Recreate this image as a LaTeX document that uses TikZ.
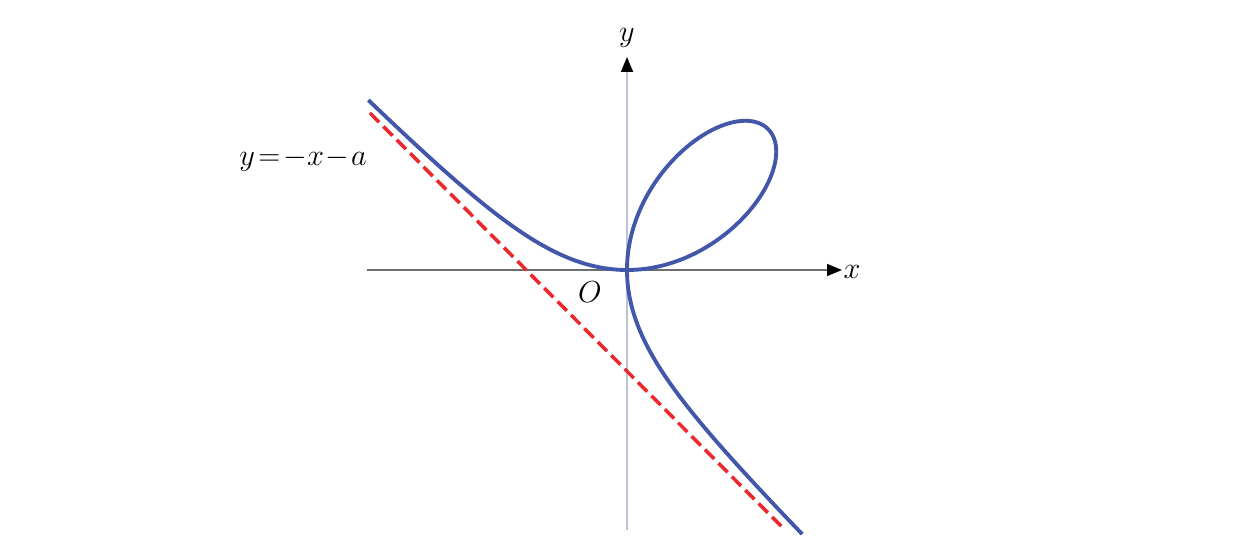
\documentclass[tikz,border=0pt]{standalone}
\usepackage{tikz}
\usetikzlibrary{arrows.meta}
\definecolor{curveblue}{RGB}{66,86,170}
\definecolor{asymred}{RGB}{236,40,44}
\definecolor{yaxisgray}{RGB}{190,192,212}
\definecolor{xaxisgray}{RGB}{110,110,110}
\begin{document}
\begin{tikzpicture}

\useasboundingbox (-12.54,-5.6) rectangle (12.44,5.4);
\def\fa{1.88}

\tikzstyle{xaxis} = [xaxisgray, line width=0.9pt, -{Triangle[length=0.3cm, width=0.24cm, color=black]}]
\tikzstyle{yaxis} = [yaxisgray, line width=1.1pt, -{Triangle[length=0.3cm, width=0.24cm, color=black]}]
\tikzstyle{folium} = [curveblue, line width=2.2pt]
\tikzstyle{asymptote} = [asymred, line width=2pt, dash pattern=on 0.26cm off 0.12cm]
\tikzstyle{mathlabel} = [inner sep=0pt, font=\fontsize{18}{21}\selectfont]

\coordinate (xs) at (-5.2,0);
\coordinate (xe) at (4.3,0);
\coordinate (ys) at (0,-5.2);
\coordinate (ye) at (0,4.26);
\coordinate (as) at (-5.14,3.14);
\coordinate (ae) at (3.16,-5.2);

\node (xl) [mathlabel] at (4.5,-0.04) {$x$};
\node (yl) [mathlabel] at (0,4.64) {$y$};
\node (O) [mathlabel] at (-0.74,-0.44) {$O$};
\node (eq) [mathlabel] at (-6.48,2.2) {$y\!=\!-x\!-\!a$};

\draw [xaxis] (xs) -- (xe);
\draw [yaxis] (ys) -- (ye);
\draw [asymptote] (as) -- (ae);
\draw [folium] plot[domain=-0.657:1, samples=120, smooth]
  ({3*\fa*\x/(1+\x*\x*\x)},{3*\fa*\x*\x/(1+\x*\x*\x)})
  -- plot[domain=1:-0.665, samples=120, smooth]
  ({3*\fa*\x*\x/(1+\x*\x*\x)},{3*\fa*\x/(1+\x*\x*\x)});

\end{tikzpicture}
\end{document}
